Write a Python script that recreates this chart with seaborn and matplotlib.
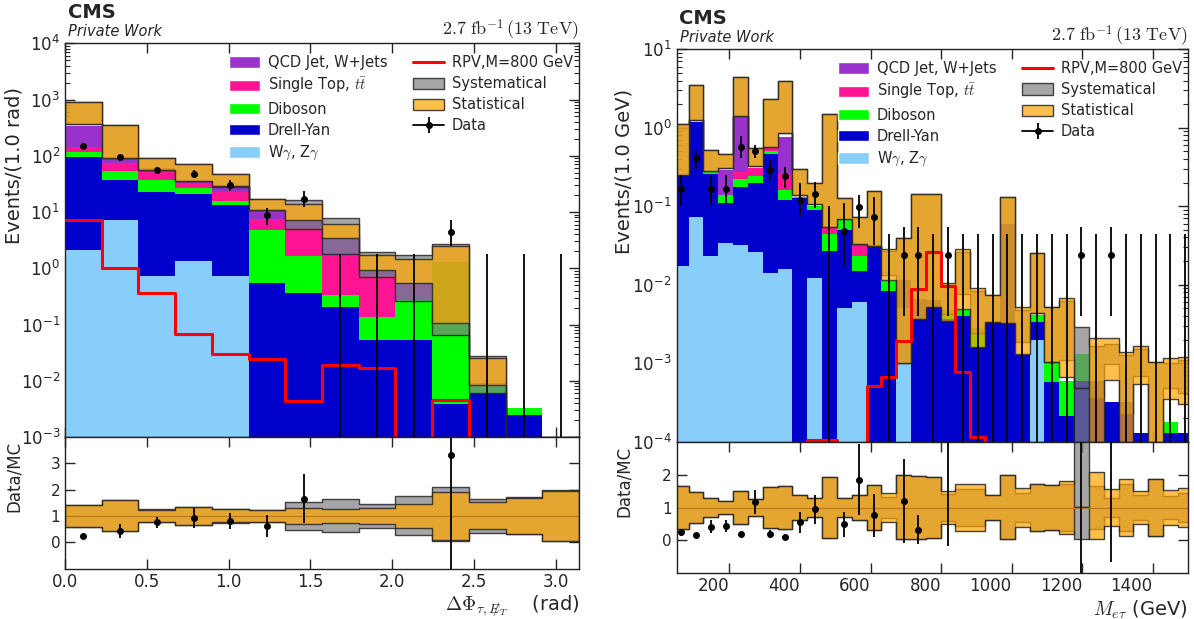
import numpy as np
import pandas as pd
import matplotlib
matplotlib.use("Agg")
import matplotlib.pyplot as plt
import seaborn as sns
from matplotlib.patches import Patch
from matplotlib.lines import Line2D
from matplotlib.ticker import MultipleLocator, FixedLocator

# ---------------- left panel: Delta Phi(tau, MET), 14 bins in [0, pi] ----------------
dphi_edges = np.linspace(0, np.pi, 15)
dphi_qcd = [200, 17, 7, 2.3, 7.6, 3.4, 2.1, 1.76, 0.13, 0.274, 0, 0.001, 0, 0]
dphi_top = [22, 21, 15.5, 6, 7.5, 2.75, 3.57, 1.4, 0.634, 0, 0, 0, 0, 0]
dphi_vv = [22, 15.5, 14.9, 5.7, 2, 4.3, 1.26, 0.135, 0.082, 0.224, 1.296, 0.002, 0.0008, 0]
dphi_dy = [94.9, 30.4, 21.9, 19.7, 12.8, 0.55, 0.37, 0.205, 0.054, 0.052, 0.0038, 0.006, 0.0025, 0]
dphi_wg = [2.1, 7.1, 0.72, 1.33, 0.72, 0, 0, 0, 0, 0, 0, 0, 0, 0]
dphi_mc = [633, 221, 74, 53, 38, 14, 10.5, 4.8, 1.33, 1.0, 1.31, 0.017, 0.0006, 0.0005]
dphi_stat = [0.43, 0.59, 0.24, 0.33, 0.25, 0.22, 0.31, 0.28, 0.30, 0.46, 0.92, 0.51, 0.69, 0.96]
dphi_syst = [0.43, 0.59, 0.25, 0.34, 0.26, 0.22, 0.53, 0.63, 0.47, 0.74, 1.10, 0.64, 0.70, 0.99]
dphi_data = [152, 95, 56, 48, 30.6, 8.7, 17.3, 0, 0, 0, 4.35, 0, 0, 0]
dphi_data_lo = [10, 10, 8, 8, 6.6, 2.9, 4.8, 0, 0, 0, 1.9, 0, 0, 0]
dphi_data_hi = [10, 10, 8, 8, 6.4, 3.3, 6.7, 1.8, 1.8, 1.8, 3.0, 1.8, 1.8, 1.8]
dphi_ratio_lo = [0.02, 0.28, 0.22, 0.38, 0.30, 0.42, 0.93, 0, 0, 0, 4.5, 0, 0, 0]
dphi_ratio_hi = [0.02, 0.28, 0.22, 0.38, 0.30, 0.42, 0.93, 0, 0, 0, 1.0, 0, 0, 0]
dphi_rpv = [7.3, 1.0, 0.36, 0.069, 0.030, 0.0244, 0.0043, 0.0188, 0.0169, 0, 0.0046, 0, 0, 0]

# ---------------- right panel: M(e tau), 35 bins ----------------
met_edges = np.linspace(42.4, 1513.1, 36)
met_qcd = [0, 0, 0, 0.15, 1.083, 0, 0, 0.51, 0, 0, 0, 0, 0.001, 0, 0, 0, 0, 0,
           0, 0, 0, 0, 0, 0, 0, 0, 0, 0, 0, 0, 0, 0, 0, 0, 0]
met_top = [0, 0, 0, 0, 0.057, 0.062, 0.04, 0.1, 0, 0.002, 0.01, 0, 0.008, 0, 0, 0, 0, 0,
           0, 0, 0, 0, 0, 0, 0, 0, 0, 0, 0, 0, 0, 0, 0, 0, 0]
met_vv = [0, 0, 0.01, 0.03, 0.045, 0.043, 0.05, 0.04, 0.004, 0.01, 0.017, 0.018, 0.0081, 0,
          0.0027, 0, 0, 0, 0.001, 0.0008, 0.00123, 0, 0, 0, 0.0007, 0.00042, 0.00038, 0.0007,
          0, 0, 0, 0, 0, 0.00005, 0]
met_dy = [0.2325, 1.127, 0.237, 0.076, 0.143, 0.174, 0.446, 0.104, 0.126, 0.0778, 0.027,
          0.0449, 0.0089, 0.0325, 0.0083, 0.0066, 0.0065, 0.0063, 0.0037, 0.004, 0.00157,
          0.0033, 0.06, 0.00129, 0.00144, 0.00058, 0.00021, 0.0006, 0.00059, 0.00032,
          0.00032, 0.00013, 0, 0.00013, 0.00013]
met_wg = [0.0175, 0.073, 0.023, 0.034, 0.032, 0.026, 0.014, 0.016, 0, 0.0122, 0, 0.0051,
          0.006, 0, 0, 0.005, 0, 0, 0, 0, 0, 0, 0, 0, 0.00196, 0, 0, 0, 0, 0, 0, 0, 0, 0, 0]
met_mc = [0.69, 2.4, 0.405, 0.386, 2.9, 0.44, 1.45, 2.4, 0.22, 0.152, 0.77, 0.098, 0.053,
          0.095, 0.02, 0.02, 0.073, 0.075, 0.007, 0.0167, 0.0054, 0.0054, 0.066, 0.0033,
          0.015, 0.0031, 0.0037, 0.00048, 0.001, 0.00136, 0.00075, 0.0011, 0.00055,
          0.00075, 0.00075]
met_stat = [0.64, 0.47, 0.30, 0.21, 0.51, 0.26, 0.61, 0.64, 0.37, 0.30, 0.93, 0.30, 0.37,
            0.67, 0.43, 0.98, 0.97, 0.93, 0.50, 0.71, 0.70, 0.38, 1.0, 0.60, 0.71, 0.67,
            0.82, 0.0, 1.07, 0.55, 0.87, 0.50, 0.87, 0.54, 0.60]
met_syst = [0.64, 0.47, 0.30, 0.21, 0.51, 0.26, 0.61, 0.64, 0.37, 0.30, 0.93, 0.30, 0.37,
            0.67, 0.33, 0.98, 0.97, 0.93, 0.40, 0.55, 0.55, 0.38, 1.0, 0.44, 0.71, 0.67,
            0.70, 5.0, 0.64, 0.28, 0.70, 0.37, 0.87, 0.35, 0.45]
met_data = [0.166, 0.41, 0.166, 0.166, 0.575, 0.51, 0.29, 0.24, 0.12, 0.144, 0, 0.048,
            0.098, 0.072, 0, 0.024, 0.024, 0, 0.024, 0, 0, 0, 0, 0, 0, 0, 0, 0.024, 0,
            0.024, 0, 0, 0, 0, 0]
met_data_lo = [0.066, 0.11, 0.06, 0.06, 0.165, 0.1, 0.08, 0.07, 0.046, 0.05, 0, 0.031,
               0.045, 0.04, 0, 0.02, 0.02, 0, 0.02, 0, 0, 0, 0, 0, 0, 0, 0, 0.02, 0, 0.02,
               0, 0, 0, 0, 0]
met_data_hi = [0.084, 0.11, 0.084, 0.084, 0.215, 0.1, 0.1, 0.08, 0.08, 0.06, 0.1, 0.062,
               0.04, 0.06, 0.044, 0.031, 0.031, 0.044, 0.031, 0.044, 0.044, 0.044, 0.044,
               0.044, 0.044, 0.044, 0.044, 0.031, 0.044, 0.031, 0.044, 0.044, 0.044,
               0.044, 0.044]
met_ratio_lo = [0.12, 0, 0.2, 0.18, 0.1, 0.36, 0.12, 0, 0.32, 0.44, 0, 0.38, 1.08, 0.65, 0,
                1.28, 0.45, 0, 3.6, 0, 0, 0, 0, 0, 0, 0, 0, 52, 0, 18.3, 0, 0, 0, 0, 0]
met_ratio_hi = [0.12, 0, 0.2, 0.18, 0.1, 0.36, 0.12, 0, 0.32, 0.44, 0, 0.38, 1.08, 0.65, 0,
                1.28, 0.45, 0, 0, 0, 0, 0, 0, 0, 0, 0, 0, 0, 0, 0, 0, 0, 0, 0, 0]
met_rpv = [0, 0, 0, 0, 0, 0, 0, 0, 0, 1.05e-4, 1.05e-4, 0, 0, 0.00052, 0.00067, 0.0019,
           0.0089, 0.026, 0.0097, 0.00078, 0.000115, 0, 0, 0, 0, 0, 0, 0, 0, 0, 0, 0, 0, 0, 0]

proc_names = ["QCD Jet, W+Jets", r"Single Top, $t\bar{t}$", "Diboson", "Drell-Yan",
              r"W$\gamma$, Z$\gamma$"]
proc_colors = ["#9932CC", "#FF1493", "#00FF00", "#0000CD", "#87CEFA"]

sns.set_style("ticks")
plt.rcParams["font.family"] = ["DejaVu Sans"]
plt.rcParams["mathtext.fontset"] = "cm"

STAT_COLOR = (1.0, 0.647, 0.0, 0.7)
SYST_COLOR = (0.5, 0.5, 0.5, 0.7)
EDGE = (0.15, 0.15, 0.15, 0.85)


def ext(v):
    v = np.asarray(v, dtype=float)
    return np.append(v, v[-1])


def draw_band(ax, edges, center, rel, color, z):
    center = np.asarray(center, dtype=float)
    rel = np.asarray(rel, dtype=float)
    lo = center * (1 - np.minimum(rel, 0.95))
    hi = center * (1 + rel)
    ax.fill_between(edges, ext(lo), ext(hi), step="post", facecolor=color,
                    edgecolor=EDGE, linewidth=1, zorder=z)


def draw_panel(ax, rax, edges, comps, mc, stat, syst, data, dlo, dhi, rlo, rhi, rpv):
    centers = 0.5 * (edges[1:] + edges[:-1])
    df = pd.concat([pd.DataFrame({"x": centers, "w": vals, "proc": name})
                    for name, vals in zip(proc_names, comps)], ignore_index=True)
    sns.histplot(data=df, x="x", weights="w", hue="proc", hue_order=proc_names,
                 palette=dict(zip(proc_names, proc_colors)), bins=list(edges),
                 multiple="stack", element="step", alpha=1, linewidth=0,
                 legend=False, ax=ax)
    ax.set_yscale("log")
    draw_band(ax, edges, mc, syst, SYST_COLOR, 2)
    draw_band(ax, edges, mc, stat, STAT_COLOR, 2.1)
    sns.histplot(x=centers, weights=rpv, bins=list(edges), element="step", fill=False,
                 color="red", linewidth=2.2, ax=ax, zorder=3)
    ax.errorbar(centers, data, yerr=[dlo, dhi], fmt="o", color="k", ms=4,
                elinewidth=1.3, capsize=0, zorder=5)

    # ratio
    ones = np.ones(len(centers))
    draw_band(rax, edges, ones, syst, SYST_COLOR, 2)
    draw_band(rax, edges, ones, stat, STAT_COLOR, 2.1)
    rax.axhline(1, color="#b5781e", lw=0.8, zorder=2.2)
    data = np.asarray(data, dtype=float)
    ratio = np.where(data > 0, data / np.asarray(mc), np.nan)
    rax.errorbar(centers, ratio, yerr=[rlo, rhi], fmt="o", color="k", ms=4,
                 elinewidth=1.3, capsize=0, zorder=5)
    for a in (ax, rax):
        a.set_xlim(edges[0], edges[-1])
        a.set_xlabel("")
        a.set_ylabel("")


def legend(ax):
    handles = [Patch(facecolor=c) for c in proc_colors]
    handles += [Line2D([], [], color="red", lw=2.2),
                Patch(facecolor=SYST_COLOR, edgecolor=EDGE),
                Patch(facecolor=STAT_COLOR, edgecolor=EDGE),
                (Line2D([], [], color="k", marker="o", ms=4, lw=1.3),
                 Line2D([], [], color="k", marker="|", ms=12, mew=1.3, ls="none"))]
    labels = proc_names + ["RPV,M=800 GeV", "Systematical", "Statistical", "Data"]
    ax.legend(handles, labels, ncol=2, loc="upper right", bbox_to_anchor=(1.0, 0.985),
              frameon=False, fontsize=10.5, handlelength=2.1, handleheight=0.8,
              handletextpad=0.55, columnspacing=1.8, labelspacing=0.42,
              borderaxespad=0, borderpad=0.4)


def style(ax, rax, major):
    for a in (ax, rax):
        a.tick_params(which="both", direction="in", top=True, right=True)
        a.tick_params(which="major", length=7, width=1)
        a.tick_params(which="minor", length=3.5, width=0.8)
        a.xaxis.set_major_locator(major)
        for s in a.spines.values():
            s.set_linewidth(1)
            s.set_color("#222222")
    ax.tick_params(labelbottom=False, labelsize=12)
    rax.tick_params(labelsize=11)
    rax.tick_params(axis="x", labelsize=12, pad=3)


W, H = 1194, 619
fig = plt.figure(figsize=(W / 100, H / 100), dpi=100)


def rect(x0, x1, ytop, ybot):
    return [x0 / W, (H - ybot) / H, (x1 - x0) / W, (ybot - ytop) / H]


axL = fig.add_axes(rect(65, 579, 43.3, 437))
raxL = fig.add_axes(rect(65, 579, 437, 568.5))
axR = fig.add_axes(rect(676.5, 1188, 49.3, 441.7))
raxR = fig.add_axes(rect(676.5, 1188, 441.7, 573.3))

draw_panel(axL, raxL, dphi_edges, [dphi_qcd, dphi_top, dphi_vv, dphi_dy, dphi_wg],
           dphi_mc, dphi_stat, dphi_syst, dphi_data, dphi_data_lo, dphi_data_hi,
           dphi_ratio_lo, dphi_ratio_hi, dphi_rpv)
draw_panel(axR, raxR, met_edges, [met_qcd, met_top, met_vv, met_dy, met_wg],
           met_mc, met_stat, met_syst, met_data, met_data_lo, met_data_hi,
           met_ratio_lo, met_ratio_hi, met_rpv)

axL.set_ylim(1e-3, 1e4)
axR.set_ylim(1e-4, 1e1)
raxL.set_ylim(-1, 4)
raxR.set_ylim(-1, 3)
raxL.yaxis.set_major_locator(FixedLocator([0, 1, 2, 3]))
raxR.yaxis.set_major_locator(FixedLocator([0, 1, 2]))
axL.set_xlim(0, np.pi)
raxL.set_xlim(0, np.pi)
axR.set_xlim(50, 1500)
raxR.set_xlim(50, 1500)

style(axL, raxL, MultipleLocator(0.5))
style(axR, raxR, MultipleLocator(200))
raxL.xaxis.set_major_formatter(matplotlib.ticker.FormatStrFormatter("%.1f"))
for lab in raxR.get_xticklabels():
    lab.set_horizontalalignment("right")

legend(axL)
legend(axR)

axL.set_ylabel("Events/(1.0 rad)", fontsize=14)
axR.set_ylabel("Events/(1.0 GeV)", fontsize=14)
axL.yaxis.set_label_coords(-0.08, 0.69)
axR.yaxis.set_label_coords(-0.084, 0.69)
raxL.set_ylabel("Data/MC", fontsize=12)
raxR.set_ylabel("Data/MC", fontsize=12)
raxL.yaxis.set_label_coords(-0.082, 0.7)
raxR.yaxis.set_label_coords(-0.086, 0.7)
raxL.set_xlabel(r"$\Delta\Phi_{\tau,E\!\!\!/_{T}}$    (rad)", fontsize=14, loc="right",
                labelpad=2)
raxR.set_xlabel(r"$M_{e\tau}$ (GeV)", fontsize=14, loc="right", labelpad=2)

lumi = r"$2.7\ \mathrm{fb}^{-1}\,(13\ \mathrm{TeV})$"
for x0, x1, ytop in [(65, 579, 43.3), (676.5, 1188, 49.3)]:
    fig.text((x0 + 3) / W, (H - ytop + 25) / H, "CMS", fontsize=14, weight="bold",
             va="baseline")
    fig.text((x0 + 3) / W, (H - ytop + 7) / H, "Private Work", fontsize=10.5,
             style="italic", va="baseline")
    fig.text(x1 / W, (H - ytop + 8) / H, lumi, fontsize=13, ha="right", va="baseline")

fig.savefig("out.png", dpi=100)
